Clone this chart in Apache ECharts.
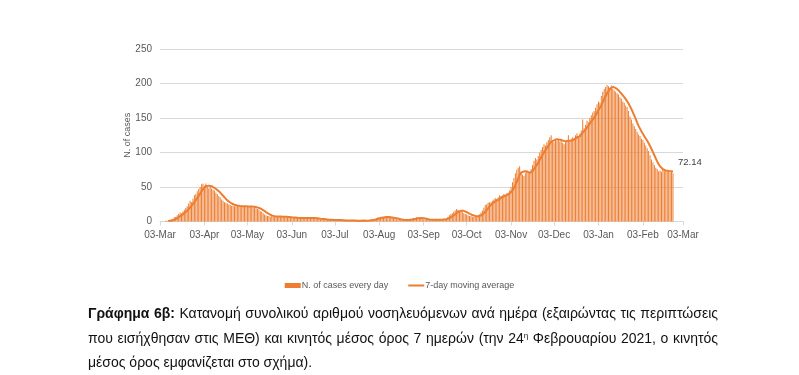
<!DOCTYPE html>
<html>
<head>
<meta charset="utf-8">
<script src="https://cdn.jsdelivr.net/npm/echarts@6/dist/echarts.min.js"></script>
<style>
html,body{margin:0;padding:0;background:#fff;}
#wrap{position:relative;width:799px;height:375px;overflow:hidden;}
#chart{position:absolute;left:0;top:0;width:799px;height:375px;}
#cap{position:absolute;left:88px;top:301px;width:630px;font-family:'Liberation Sans',Arial,sans-serif;font-size:14px;line-height:24.5px;color:#111;}
#cap .j{text-align:justify;text-align-last:justify;}
#cap sup{font-size:8px;line-height:0;vertical-align:5px;}
</style>
</head>
<body>
<div id="wrap">
<div id="chart"></div>
<div id="cap">
<div class="j"><b>Γράφημα 6β:</b> Κατανομή συνολικού αριθμού νοσηλευόμενων ανά ημέρα (εξαιρώντας τις περιπτώσεις</div>
<div class="j">που εισήχθησαν στις ΜΕΘ) και κινητός μέσος όρος 7 ημερών (την 24<sup>η</sup> Φεβρουαρίου 2021, ο κινητός</div>
<div>μέσος όρος εμφανίζεται στο σχήμα).</div>
</div>
</div>
<script>
// Daily categories: 03-Mar-2020 .. 03-Mar-2021
const startDate = [2020, 2, 3];
const nDays = 366;
const monthNames = ['Jan','Feb','Mar','Apr','May','Jun','Jul','Aug','Sep','Oct','Nov','Dec'];
const tickLabels = ['03-Mar','03-Apr','03-May','03-Jun','03-Jul','03-Aug','03-Sep','03-Oct','03-Nov','03-Dec','03-Jan','03-Feb','03-Mar'];

// N. of cases every day (03-Mar-2020 .. 24-Feb-2021)
const dailyCases = [
0,0,0,0,1,1,2, 2,3,4,6,7,9,11, 13,12,15,17,20,22,26, 30,28,33,38,40,44,47,
50,54,55,52,55,50,48, 50,48,46,45,42,40,37, 35,32,30,28,27,26,25, 24,23,23,22,22,23,22,
22,23,21,22,22,21,22, 21,22,20,21,19,18,17, 15,14,12,10,9,8,8, 7,8,7,7,8,7,7,
7,7,6,7,7,6,6, 6,5,5,6,5,5,5, 5,5,5,4,5,5,5, 5,5,4,5,4,4,4,
3,3,3,3,2,3,2, 2,2,2,2,2,2,2, 2,1,2,1,1,2,1, 1,1,1,2,1,1,1,
1,1,2,1,1,2,2, 2,3,3,4,5,6,6, 7,7,6,7,6,6,6, 5,5,4,4,3,3,2,
2,2,2,2,2,3,3, 4,4,5,5,6,5,5, 4,4,3,3,3,2,2, 2,3,2,3,3,2,3,
3,3,4,4,5,7,9, 11,12,14,16,18,17,16, 15,14,12,11,10,9,8, 8,7,7,8,7,8,10,
13,16,20,24,25,27,28, 28,30,32,34,33,35,38, 37,38,40,39,41,42,45, 50,57,63,70,75,78,80,
72,68,66,70,74,70,72, 76,82,88,92,90,95,100, 104,108,112,110,115,118,122, 125,118,115,120,117,119,116,
120,114,112,115,118,125,116, 120,122,118,125,128,124,127, 132,148,135,140,146,144,150, 154,158,160,165,170,174,172,
182,188,192,195,198,196,194, 197,192,190,188,186,184,180, 178,174,172,168,166,160,152, 148,142,138,134,130,126,124,
120,118,114,110,106,102,96, 90,86,82,78,76,73,74, 72,75,73,74,72,73,71, 72,70
];

// 7-day moving average (same days)
const movingAvg = [
null,null,null,null,null,null,0.6, 0.9,1.3,1.9,2.7,3.6,4.7,6.0, 7.6,8.9,10.4,12.0,13.9,15.7,17.9, 20.3,22.6,25.1,28.1,31.0,34.1,37.1,
40.0,43.7,46.9,48.9,51.0,51.9,52.0, 52.0,51.1,49.9,48.9,47.0,45.6,44.0, 41.9,39.6,37.3,34.9,32.7,30.7,29.0, 27.4,26.1,25.1,24.3,23.6,23.1,22.7,
22.4,22.4,22.1,22.1,22.1,21.9,21.9, 21.7,21.6,21.4,21.3,20.9,20.4,19.7, 18.9,17.7,16.6,15.0,13.6,12.1,10.9, 9.7,8.9,8.1,7.7,7.6,7.4,7.3,
7.3,7.1,7.0,7.0,6.9,6.7,6.6, 6.4,6.1,6.0,5.9,5.6,5.4,5.3, 5.1,5.1,5.1,4.9,4.9,4.9,4.9, 4.9,4.9,4.7,4.9,4.7,4.6,4.4,
4.1,3.9,3.7,3.4,3.1,3.0,2.7, 2.6,2.4,2.3,2.1,2.1,2.0,2.0, 2.0,1.9,1.9,1.7,1.6,1.6,1.4, 1.3,1.3,1.1,1.3,1.3,1.1,1.1,
1.1,1.1,1.3,1.1,1.1,1.3,1.4, 1.6,1.9,2.0,2.4,3.0,3.6,4.1, 4.9,5.4,5.9,6.3,6.4,6.4,6.4, 6.1,5.9,5.6,5.1,4.7,4.3,3.7,
3.3,2.9,2.6,2.3,2.1,2.1,2.3, 2.6,2.9,3.3,3.7,4.3,4.6,4.9, 4.9,4.9,4.6,4.3,3.9,3.4,3.0, 2.7,2.6,2.4,2.4,2.4,2.4,2.6,
2.7,2.7,3.0,3.1,3.4,4.1,5.0, 6.1,7.4,8.9,10.6,12.4,13.9,14.9, 15.4,15.7,15.4,14.7,13.6,12.4,11.3, 10.3,9.3,8.6,8.1,7.7,7.6,7.9,
8.6,9.9,11.7,14.0,16.6,19.3,21.9, 24.0,26.0,27.7,29.1,30.3,31.4,32.9, 34.1,35.3,36.4,37.1,38.3,39.3,40.3, 42.1,44.9,48.1,52.6,57.4,62.6,67.6,
70.7,72.3,72.7,72.7,72.6,71.4,70.3, 70.9,72.9,76.0,79.1,81.4,85.0,89.0, 93.0,96.7,100.1,102.7,106.3,109.6,112.7, 115.7,117.1,117.6,119.0,119.3,119.4,118.6,
117.9,117.3,116.9,116.1,116.3,117.1,117.1, 117.1,118.3,119.1,120.6,122.0,121.9,123.4, 125.1,128.9,131.3,133.4,136.0,138.9,142.1, 145.3,146.7,150.3,153.9,157.3,161.6,164.7,
168.7,173.0,177.6,181.9,185.9,189.0,192.1, 194.3,194.9,194.6,193.6,191.9,190.1,188.1, 185.4,182.9,180.3,177.4,174.6,171.1,167.1, 162.9,158.3,153.4,148.6,143.4,138.6,134.6,
130.6,127.1,123.7,120.3,116.9,113.4,109.4, 105.1,100.6,96.0,91.4,87.1,83.0,79.9, 77.3,75.7,74.4,73.9,73.3,73.3,72.9, 72.9,72.14
];

const categories = [];
for (let i = 0; i < nDays; i++) {
  const d = new Date(Date.UTC(startDate[0], startDate[1], startDate[2] + i));
  const dd = String(d.getUTCDate()).padStart(2, '0');
  categories.push(dd + '-' + monthNames[d.getUTCMonth()]);
}
const isTick = (idx, val) => tickLabels.indexOf(val) >= 0;

const orange = '#ED7D31';
const txt = '#595959';
const font = "'Liberation Sans', Arial, sans-serif";

const chart = echarts.init(document.getElementById('chart'), null, {renderer: 'canvas'});
chart.setOption({
  animation: false,
  backgroundColor: '#fff',
  textStyle: {fontFamily: font},
  grid: {left: 160, right: 116, top: 49, bottom: 153.5, containLabel: false},
  legend: {
    top: 276, left: 'center', itemWidth: 16, itemHeight: 5, itemGap: 20,
    textStyle: {color: txt, fontSize: 9, fontFamily: font, padding: [0, 0, 0, -4]},
    data: [
      {name: 'N. of cases every day', icon: 'rect'},
      {name: '7-day moving average', icon: 'path://M0,0h16v2h-16z'}
    ]
  },
  xAxis: {
    type: 'category', data: categories, boundaryGap: false,
    axisLine: {show: true, lineStyle: {color: '#d9d9d9', width: 1}},
    axisTick: {show: true, interval: isTick, length: 4, lineStyle: {color: '#d9d9d9'}},
    axisLabel: {interval: isTick, color: txt, fontSize: 10, margin: 9, fontFamily: font},
    splitLine: {show: false}
  },
  yAxis: {
    type: 'value', min: 0, max: 250, interval: 50,
    name: 'N. of cases', nameLocation: 'middle', nameGap: 28, nameMoveOverlap: false,
    nameTextStyle: {color: txt, fontSize: 9, fontFamily: font},
    axisLine: {show: false}, axisTick: {show: false},
    axisLabel: {color: txt, fontSize: 10, margin: 8, fontFamily: font},
    splitLine: {lineStyle: {color: '#d9d9d9', width: 1}}
  },
  series: [
    {
      name: 'N. of cases every day', type: 'bar', data: dailyCases,
      barWidth: '55%', itemStyle: {color: orange}, silent: true
    },
    {
      name: '7-day moving average', type: 'line', data: movingAvg,
      symbol: 'none', smooth: false, connectNulls: false,
      lineStyle: {color: orange, width: 2}, itemStyle: {color: orange},
      endLabel: {show: true, formatter: p => String(p.value), color: '#404040', fontSize: 9.5, fontFamily: font, offset: [-3, -9]},
      silent: true
    }
  ]
});
</script>
</body>
</html>
